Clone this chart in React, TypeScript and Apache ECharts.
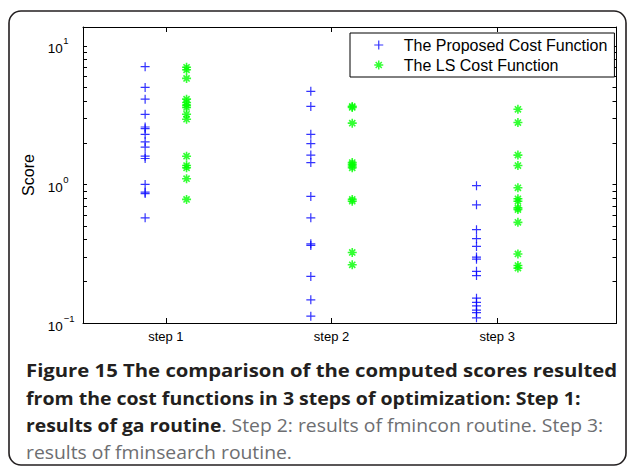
import React, { useEffect, useRef } from "react";
import * as echarts from "echarts";

// Category labels on the x axis
const stepLabels = ["step 1", "step 2", "step 3"];

// Scores of the proposed cost function, per optimisation step
const proposedStep1 = [7.08, 5.02, 4.13, 3.21, 2.6, 2.53, 2.3, 2.03, 1.86, 1.6, 1.54, 1.0, 0.88, 0.86, 0.574];
const proposedStep2 = [4.7, 3.66, 2.3, 1.97, 1.63, 1.44, 0.82, 0.574, 0.373, 0.363, 0.217, 0.147, 0.112];
const proposedStep3 = [0.98, 0.713, 0.472, 0.406, 0.357, 0.299, 0.289, 0.236, 0.22, 0.151, 0.141, 0.133, 0.124, 0.119, 0.109];

// Scores of the LS cost function, per optimisation step
const lsStep1 = [7.01, 6.73, 5.83, 4.13, 3.91, 3.74, 3.6, 3.21, 2.96, 1.6, 1.37, 1.32, 1.1, 0.78];
const lsStep2 = [3.66, 3.6, 2.77, 1.44, 1.4, 1.36, 1.32, 0.78, 0.757, 0.323, 0.263];
const lsStep3 = [3.49, 2.8, 1.63, 1.37, 0.946, 0.788, 0.757, 0.678, 0.659, 0.533, 0.315, 0.26, 0.249];

// Log-axis tick positions (decades plus the 2..9 minor ticks) and labelled decades
const yTickValues = [
  0.1, 0.2, 0.3, 0.4, 0.5, 0.6, 0.7, 0.8, 0.9,
  1, 2, 3, 4, 5, 6, 7, 8, 9, 10,
];
const yLabelValues = [0.1, 1, 10];
const xTickValues = [1, 2, 3];

const seriesNames = ["The Proposed Cost Function", "The LS Cost Function"];

// Caption lines
const captionLine1 = "Figure 15 The comparison of the computed scores resulted";
const captionLine2 = "from the cost functions in 3 steps of optimization: Step 1:";
const captionLine3Bold = "results of ga routine";
const captionLine3Rest = ". Step 2: results of fmincon routine. Step 3:";
const captionLine4 = "results of fminsearch routine.";

const PLUS = "path://M5,0L5,10M0,5L10,5";
const STAR = "path://M5,0L5,10M0,5L10,5M1.6,1.6L8.4,8.4M8.4,1.6L1.6,8.4";

const AXIS_FONT = "Liberation Sans, Arial, Helvetica, sans-serif";
const CAPTION_FONT = "Open Sans, Noto Sans, sans-serif";
const BOLD_INK = "#231f20";
const PLAIN_INK = "#6d6e71";

function toPoints(groups: number[][], shift: number): number[][] {
  const pts: number[][] = [];
  groups.forEach((vals, i) => {
    vals.forEach((v) => pts.push([i + 1 + shift, v]));
  });
  return pts;
}

function captionText(y: number, scaleX: number, style: any) {
  return {
    type: "text",
    x: 26,
    y,
    scaleX,
    style: { verticalAlign: "middle", align: "left", ...style },
  };
}

export default function App() {
  const ref = useRef<HTMLDivElement>(null);

  useEffect(() => {
    if (!ref.current) return;
    const chart = echarts.init(ref.current, null, { renderer: "svg" });

    const xAxisBase: any = {
      type: "value",
      min: 0.5,
      max: 3.72,
      splitLine: { show: false },
      axisLine: { show: true, onZero: false, lineStyle: { color: "#000", width: 1 } },
      axisTick: {
        show: true,
        inside: true,
        length: 5,
        customValues: xTickValues,
        lineStyle: { color: "#000", width: 1 },
      },
    };

    const yAxisBase: any = {
      type: "log",
      logBase: 10,
      min: 0.1,
      max: 13.7,
      splitLine: { show: false },
      minorTick: { show: false },
      axisLine: { show: true, onZero: false, lineStyle: { color: "#000", width: 1 } },
      axisTick: {
        show: true,
        inside: true,
        length: 4,
        customValues: yTickValues,
        lineStyle: { color: "#000", width: 1 },
      },
    };

    const boldCaption = {
      fontSize: 17.5,
      fontWeight: "bold",
      fontFamily: CAPTION_FONT,
      fill: BOLD_INK,
    };
    const plainCaption = {
      fontSize: 17.5,
      fontWeight: "normal",
      fontFamily: CAPTION_FONT,
      fill: PLAIN_INK,
    };

    const supStyle = {
      fontSize: 9.5,
      lineHeight: 10,
      verticalAlign: "top",
      color: "#000",
      fontFamily: AXIS_FONT,
    };

    const option: any = {
      animation: false,
      backgroundColor: "#fff",
      grid: { left: 83, right: 12.5, top: 27, bottom: 145, containLabel: false },
      legend: {
        orient: "vertical",
        left: 350,
        top: 33,
        padding: [4, 7, 4, 23.5],
        itemGap: 4,
        itemWidth: 9,
        itemHeight: 9,
        backgroundColor: "#fff",
        borderColor: "#000",
        borderWidth: 1,
        borderRadius: 0,
        formatter: "{t|{name}}",
        textStyle: {
          fontSize: 16,
          color: "#000",
          fontFamily: AXIS_FONT,
          rich: { t: { fontSize: 16, color: "#000", fontFamily: AXIS_FONT, padding: [0, 0, 0, 15.5] } },
        },
        data: [
          { name: seriesNames[0], icon: PLUS, itemStyle: { color: "#0000ff", borderColor: "#0000ff", borderWidth: 1.2 } },
          { name: seriesNames[1], icon: STAR, itemStyle: { color: "#00ff00", borderColor: "#00ff00", borderWidth: 1.5 } },
        ],
      },
      xAxis: [
        {
          ...xAxisBase,
          position: "bottom",
          axisLabel: {
            customValues: xTickValues,
            formatter: (v: number) => stepLabels[Math.round(v) - 1] ?? "",
            fontSize: 13,
            color: "#000",
            fontFamily: AXIS_FONT,
            margin: 7,
          },
        },
        { ...xAxisBase, position: "top", axisLabel: { show: false } },
      ],
      yAxis: [
        {
          ...yAxisBase,
          position: "left",
          name: "Score",
          nameLocation: "middle",
          nameGap: 42,
          nameRotate: 90,
          nameTextStyle: { fontSize: 16, color: "#000", fontFamily: AXIS_FONT },
          axisLabel: {
            customValues: yLabelValues,
            margin: 3,
            formatter: (v: number) => {
              const e = Math.round(Math.log10(v));
              return e < 0
                ? "{b|10}{n|\u2212" + Math.abs(e) + "}"
                : "{b|10}{p|" + e + "}";
            },
            rich: {
              b: { fontSize: 13.5, lineHeight: 20, verticalAlign: "bottom", color: "#000", fontFamily: AXIS_FONT },
              p: { ...supStyle, padding: [0, 11.5, 0, 0.5] },
              n: { ...supStyle, padding: [0, 5.5, 0, 1] },
            },
          },
        },
        { ...yAxisBase, position: "right", axisLabel: { show: false } },
      ],
      series: [
        {
          name: seriesNames[0],
          type: "scatter",
          xAxisIndex: 0,
          yAxisIndex: 0,
          symbol: PLUS,
          symbolSize: 9,
          itemStyle: { color: "#0000ff", borderColor: "#0000ff", borderWidth: 1.2 },
          data: toPoints([proposedStep1, proposedStep2, proposedStep3], -0.125),
        },
        {
          name: seriesNames[1],
          type: "scatter",
          xAxisIndex: 0,
          yAxisIndex: 0,
          symbol: STAR,
          symbolSize: 9,
          itemStyle: { color: "#00ff00", borderColor: "#00ff00", borderWidth: 1.6 },
          data: toPoints([lsStep1, lsStep2, lsStep3], 0.125),
        },
      ],
      graphic: [
        {
          type: "rect",
          silent: true,
          z: -10,
          shape: { x: 9, y: 11, width: 617, height: 454, r: 12 },
          style: { fill: "none", stroke: BOLD_INK, lineWidth: 1.6 },
        },
        captionText(371, 1.16, { text: captionLine1, ...boldCaption }),
        captionText(398, 1.115, { text: captionLine2, ...boldCaption }),
        captionText(425, 1.105, {
          text: "{b|" + captionLine3Bold + "}{n|" + captionLine3Rest + "}",
          rich: { b: boldCaption, n: plainCaption },
        }),
        captionText(452, 1.105, { text: captionLine4, ...plainCaption }),
      ],
    };

    chart.setOption(option);
    return () => chart.dispose();
  }, []);

  return (
    <div
      ref={ref}
      style={{ position: "fixed", left: 0, top: 0, width: 629, height: 468, background: "#fff" }}
    />
  );
}
